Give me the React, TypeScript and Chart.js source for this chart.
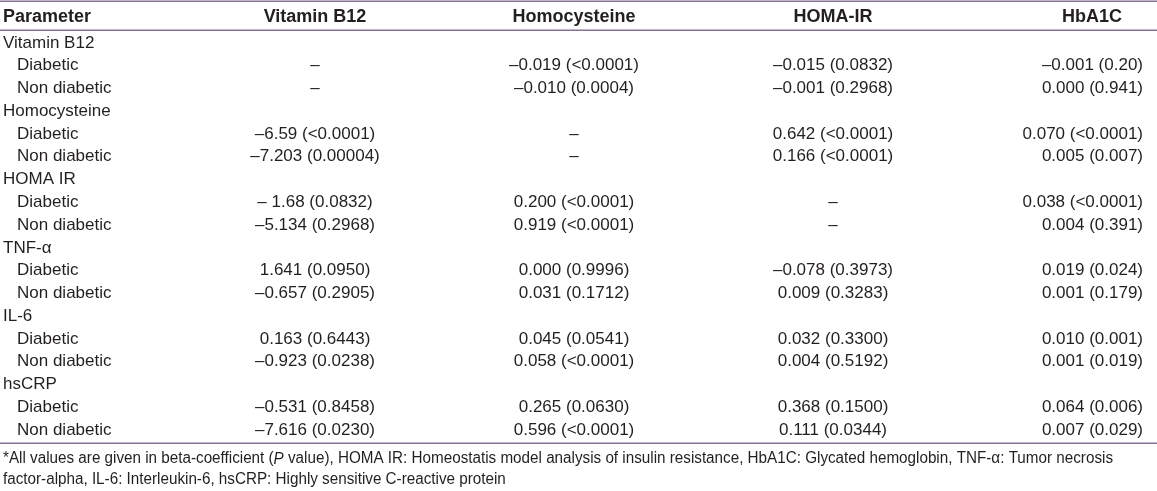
import React, { useEffect, useRef } from "react";
import { Chart, registerables } from "chart.js";

Chart.register(...registerables);

// ---- Table content ----
const headerFirst = "Parameter";
const columns = ["Vitamin B12", "Homocysteine", "HOMA-IR", "HbA1C"];
const groups = ["Vitamin B12", "Homocysteine", "HOMA IR", "TNF-α", "IL-6", "hsCRP"];
const subgroups = ["Diabetic", "Non diabetic"];

const vitaminB12Col = [
  "–", "–",
  "–6.59 (<0.0001)", "–7.203 (0.00004)",
  "– 1.68 (0.0832)", "–5.134 (0.2968)",
  "1.641 (0.0950)", "–0.657 (0.2905)",
  "0.163 (0.6443)", "–0.923 (0.0238)",
  "–0.531 (0.8458)", "–7.616 (0.0230)",
];
const homocysteineCol = [
  "–0.019 (<0.0001)", "–0.010 (0.0004)",
  "–", "–",
  "0.200 (<0.0001)", "0.919 (<0.0001)",
  "0.000 (0.9996)", "0.031 (0.1712)",
  "0.045 (0.0541)", "0.058 (<0.0001)",
  "0.265 (0.0630)", "0.596 (<0.0001)",
];
const homaIrCol = [
  "–0.015 (0.0832)", "–0.001 (0.2968)",
  "0.642 (<0.0001)", "0.166 (<0.0001)",
  "–", "–",
  "–0.078 (0.3973)", "0.009 (0.3283)",
  "0.032 (0.3300)", "0.004 (0.5192)",
  "0.368 (0.1500)", "0.111 (0.0344)",
];
const hba1cCol = [
  "–0.001 (0.20)", "0.000 (0.941)",
  "0.070 (<0.0001)", "0.005 (0.007)",
  "0.038 (<0.0001)", "0.004 (0.391)",
  "0.019 (0.024)", "0.001 (0.179)",
  "0.010 (0.001)", "0.001 (0.019)",
  "0.064 (0.006)", "0.007 (0.029)",
];
const valueColumns = [vitaminB12Col, homocysteineCol, homaIrCol, hba1cCol];

const footnoteLine1 = [
  { t: "*All values are given in beta-coefficient (", i: false },
  { t: "P", i: true },
  { t: " value), HOMA IR: Homeostatis model analysis of insulin resistance, HbA1C: Glycated hemoglobin, TNF-α: Tumor necrosis", i: false },
];
const footnoteLine2 = "factor-alpha, IL-6: Interleukin-6, hsCRP: Highly sensitive C-reactive protein";

// ---- Layout / style ----
const W = 1157;
const H = 491;
const TEXT = "#231f20";
const RULE = "#857392";
const FONT = '"Liberation Sans", Arial, sans-serif';
const HEADER_ROW = -1.16;
const TOP_RULE = -1.845;
const HEAD_RULE = -0.571;
const BOTTOM_RULE = 17.575;
const FOOT1 = 18.28;
const FOOT2 = 19.2;
const FOOT_WIDTH = 1110; // condensed footnote line width (px)
const LAST_COL_RIGHT = 0.197; // right-aligned last column (in column units)

const rowOf = (i: number) => Math.floor(i / 2) * 3 + 1 + (i % 2);

const cells = valueColumns.flatMap((arr, ci) =>
  arr.map((text, i) => ({ x: ci, y: rowOf(i), text, col: ci }))
);

const tablePlugin = {
  id: "tableText",
  afterDatasetsDraw(chart: any) {
    const { ctx, chartArea } = chart;
    const xs = chart.scales.x;
    const ys = chart.scales.y;
    const left = chartArea.left;
    const right = chartArea.right;
    ctx.save();

    // rules
    ctx.strokeStyle = RULE;
    ctx.lineWidth = 1.5;
    [TOP_RULE, HEAD_RULE, BOTTOM_RULE].forEach((v) => {
      const py = Math.round(ys.getPixelForValue(v)) + 0.25;
      ctx.beginPath();
      ctx.moveTo(left, py);
      ctx.lineTo(right, py);
      ctx.stroke();
    });

    ctx.fillStyle = TEXT;
    ctx.textBaseline = "middle";

    // header
    ctx.font = `bold 18px ${FONT}`;
    const hy = ys.getPixelForValue(HEADER_ROW);
    ctx.textAlign = "left";
    ctx.fillText(headerFirst, left + 3, hy);
    ctx.textAlign = "center";
    columns.forEach((c, i) => ctx.fillText(c, xs.getPixelForValue(i), hy));

    // row labels
    ctx.font = `17px ${FONT}`;
    ctx.textAlign = "left";
    groups.forEach((g, gi) => {
      ctx.fillText(g, left + 3, ys.getPixelForValue(gi * 3));
      subgroups.forEach((s, si) => {
        ctx.fillText(s, left + 17, ys.getPixelForValue(gi * 3 + 1 + si));
      });
    });

    // value cells, placed at the scatter points
    const meta = chart.getDatasetMeta(0);
    meta.data.forEach((pt: any, k: number) => {
      const cell = cells[k];
      if (cell.col === columns.length - 1) {
        ctx.textAlign = "right";
        ctx.fillText(cell.text, xs.getPixelForValue(cell.x + LAST_COL_RIGHT), pt.y);
      } else {
        ctx.textAlign = "center";
        ctx.fillText(cell.text, pt.x, pt.y);
      }
    });

    // footnote (condensed horizontally)
    ctx.textAlign = "left";
    const fsz = 16;
    let total = 0;
    footnoteLine1.forEach((seg) => {
      ctx.font = `${seg.i ? "italic " : ""}${fsz}px ${FONT}`;
      total += ctx.measureText(seg.t).width;
    });
    const sx = FOOT_WIDTH / total;
    ctx.save();
    ctx.translate(left + 3, 0);
    ctx.scale(sx, 1);
    let fx = 0;
    const f1y = ys.getPixelForValue(FOOT1);
    footnoteLine1.forEach((seg) => {
      ctx.font = `${seg.i ? "italic " : ""}${fsz}px ${FONT}`;
      ctx.fillText(seg.t, fx, f1y);
      fx += ctx.measureText(seg.t).width;
    });
    ctx.font = `${fsz}px ${FONT}`;
    ctx.fillText(footnoteLine2, 0, ys.getPixelForValue(FOOT2));
    ctx.restore();

    ctx.restore();
  },
};

export default function App() {
  const ref = useRef<HTMLCanvasElement | null>(null);
  useEffect(() => {
    document.body.style.margin = "0";
    if (!ref.current) return;
    const pxPerCol = 259;
    const xMin = -315 / pxPerCol;
    const xMax = xMin + W / pxPerCol;
    const pxPerRow = 22.76;
    const yMin = -43 / pxPerRow;
    const yMax = yMin + H / pxPerRow;
    const chart = new Chart(ref.current, {
      type: "scatter",
      data: {
        datasets: [
          {
            data: cells.map((c) => ({ x: c.x, y: c.y })),
            pointRadius: 0,
            pointHoverRadius: 0,
            backgroundColor: "rgba(0,0,0,0)",
            borderColor: "rgba(0,0,0,0)",
          },
        ],
      },
      options: {
        animation: false,
        responsive: true,
        maintainAspectRatio: false,
        layout: { padding: 0 },
        plugins: { legend: { display: false }, tooltip: { enabled: false } },
        events: [],
        scales: {
          x: { type: "linear", display: false, min: xMin, max: xMax },
          y: { type: "linear", display: false, reverse: true, min: yMin, max: yMax },
        },
      },
      plugins: [tablePlugin],
    });
    return () => chart.destroy();
  }, []);
  return (
    <div style={{ width: W, height: H, position: "relative", background: "#fff" }}>
      <canvas ref={ref} />
    </div>
  );
}
